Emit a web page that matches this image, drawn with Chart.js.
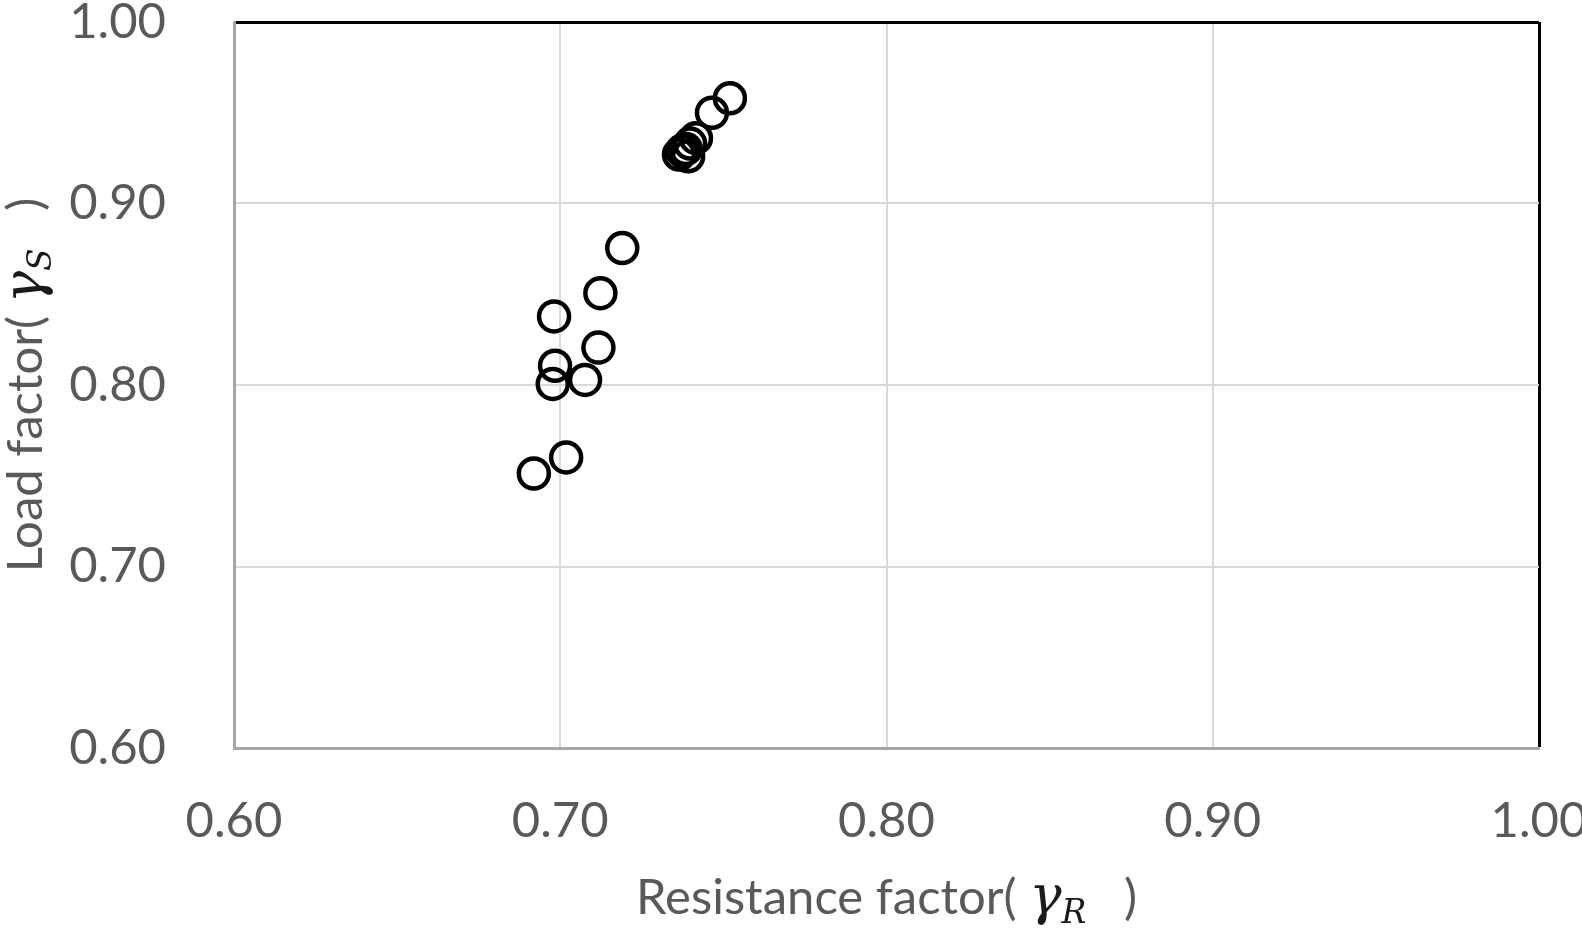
<!DOCTYPE html>
<html>
<head>
<meta charset="utf-8">
<script src="https://cdn.jsdelivr.net/npm/chart.js@4"></script>
<style>
    body { margin: 0; background: #fff; }
    #wrap { width: 1582px; height: 931px; position: relative; }
</style>
</head>
<body>
<div id="wrap"><canvas id="chart"></canvas></div>
<script>
const resistanceFactor = [0.752, 0.7465, 0.7416, 0.7398, 0.7385, 0.7373, 0.7364, 0.7392,
    0.719, 0.7123, 0.6981, 0.7117, 0.6984, 0.6977, 0.7076, 0.7018, 0.6919];
const loadFactor = [0.958, 0.950, 0.936, 0.933, 0.930, 0.929, 0.927, 0.926,
    0.8755, 0.8506, 0.8378, 0.8206, 0.8106, 0.8006, 0.8028, 0.7601, 0.7512];
const xTicks = [0.60, 0.70, 0.80, 0.90, 1.00];
const yTicks = [0.60, 0.70, 0.80, 0.90, 1.00];

const tickFont = { family: 'Lato', size: 49, lineHeight: 1 };
const tickColor = '#595959';

// axis titles with the italic gamma + subscript
function richText(ctx, parts, x, y, angle) {
    ctx.save();
    ctx.translate(x, y);
    ctx.rotate(angle);
    ctx.textBaseline = 'alphabetic';
    ctx.textAlign = 'left';
    let total = 0;
    parts.forEach(p => { ctx.font = p.font; p.w = ctx.measureText(p.text).width; total += p.w; });
    let cx = -total / 2;
    parts.forEach(p => {
        ctx.font = p.font;
        ctx.fillStyle = p.color || tickColor;
        ctx.fillText(p.text, cx, p.dy || 0);
        cx += p.w;
    });
    ctx.restore();
}

const axisTitles = {
    id: 'axisTitles',
    afterDraw(chart) {
        const { ctx, chartArea } = chart;
        const normal = '49px Lato';
        const gam = 'italic 54px "DejaVu Serif"';
        const sub = 'italic 33px "DejaVu Serif"';
        richText(ctx, [
            { text: 'Resistance factor( ', font: normal },
            { text: 'γ', font: gam, color: '#1a1a1a' },
            { text: 'R', font: sub, color: '#1a1a1a', dy: 9 },
            { text: '   )', font: normal }
        ], (chartArea.left + chartArea.right) / 2, 914, 0);
        richText(ctx, [
            { text: 'Load factor( ', font: normal },
            { text: 'γ', font: gam, color: '#1a1a1a' },
            { text: 'S', font: sub, color: '#1a1a1a', dy: 9 },
            { text: '   )', font: normal }
        ], 42, (chartArea.top + chartArea.bottom) / 2, -Math.PI / 2);
    }
};

function noPad(scale) {
    scale.paddingTop = 0;
    scale.paddingBottom = 0;
    scale.paddingLeft = 0;
    scale.paddingRight = 0;
}

const isEdge = c => c.tick && Math.abs(c.tick.value - 1) < 1e-9;

new Chart(document.getElementById('chart').getContext('2d'), {
    type: 'scatter',
    data: {
        datasets: [{
            data: resistanceFactor.map((v, i) => ({ x: v, y: loadFactor[i] })),
            pointStyle: 'circle',
            pointRadius: 15,
            pointHoverRadius: 15,
            pointBorderWidth: 4.5,
            pointBorderColor: '#000',
            pointBackgroundColor: 'rgba(0,0,0,0)',
            borderColor: '#000',
            backgroundColor: 'rgba(0,0,0,0)'
        }]
    },
    options: {
        responsive: true,
        maintainAspectRatio: false,
        animation: false,
        layout: { padding: { top: 22, right: 43, left: 0, bottom: 0 } },
        plugins: {
            legend: { display: false },
            tooltip: { enabled: false }
        },
        scales: {
            x: {
                type: 'linear',
                min: 0.6,
                max: 1.0,
                afterBuildTicks: s => { s.ticks = xTicks.map(v => ({ value: v })); },
                afterFit: s => { s.height = 183; noPad(s); },
                ticks: {
                    font: tickFont,
                    color: tickColor,
                    padding: 49,
                    callback: v => v.toFixed(2)
                },
                grid: {
                    drawTicks: false,
                    color: c => isEdge(c) ? '#000' : '#d9d9d9',
                    lineWidth: c => isEdge(c) ? 3 : 2
                },
                border: { color: '#a6a6a6', width: 3 }
            },
            y: {
                type: 'linear',
                min: 0.6,
                max: 1.0,
                afterBuildTicks: s => { s.ticks = yTicks.map(v => ({ value: v })); },
                afterFit: s => { s.width = 234; noPad(s); },
                ticks: {
                    font: tickFont,
                    color: tickColor,
                    padding: 68,
                    callback: v => v.toFixed(2)
                },
                grid: {
                    drawTicks: false,
                    color: c => isEdge(c) ? '#000' : '#d9d9d9',
                    lineWidth: c => isEdge(c) ? 3 : 2
                },
                border: { color: '#a6a6a6', width: 3 }
            }
        }
    },
    plugins: [axisTitles]
});
</script>
</body>
</html>
